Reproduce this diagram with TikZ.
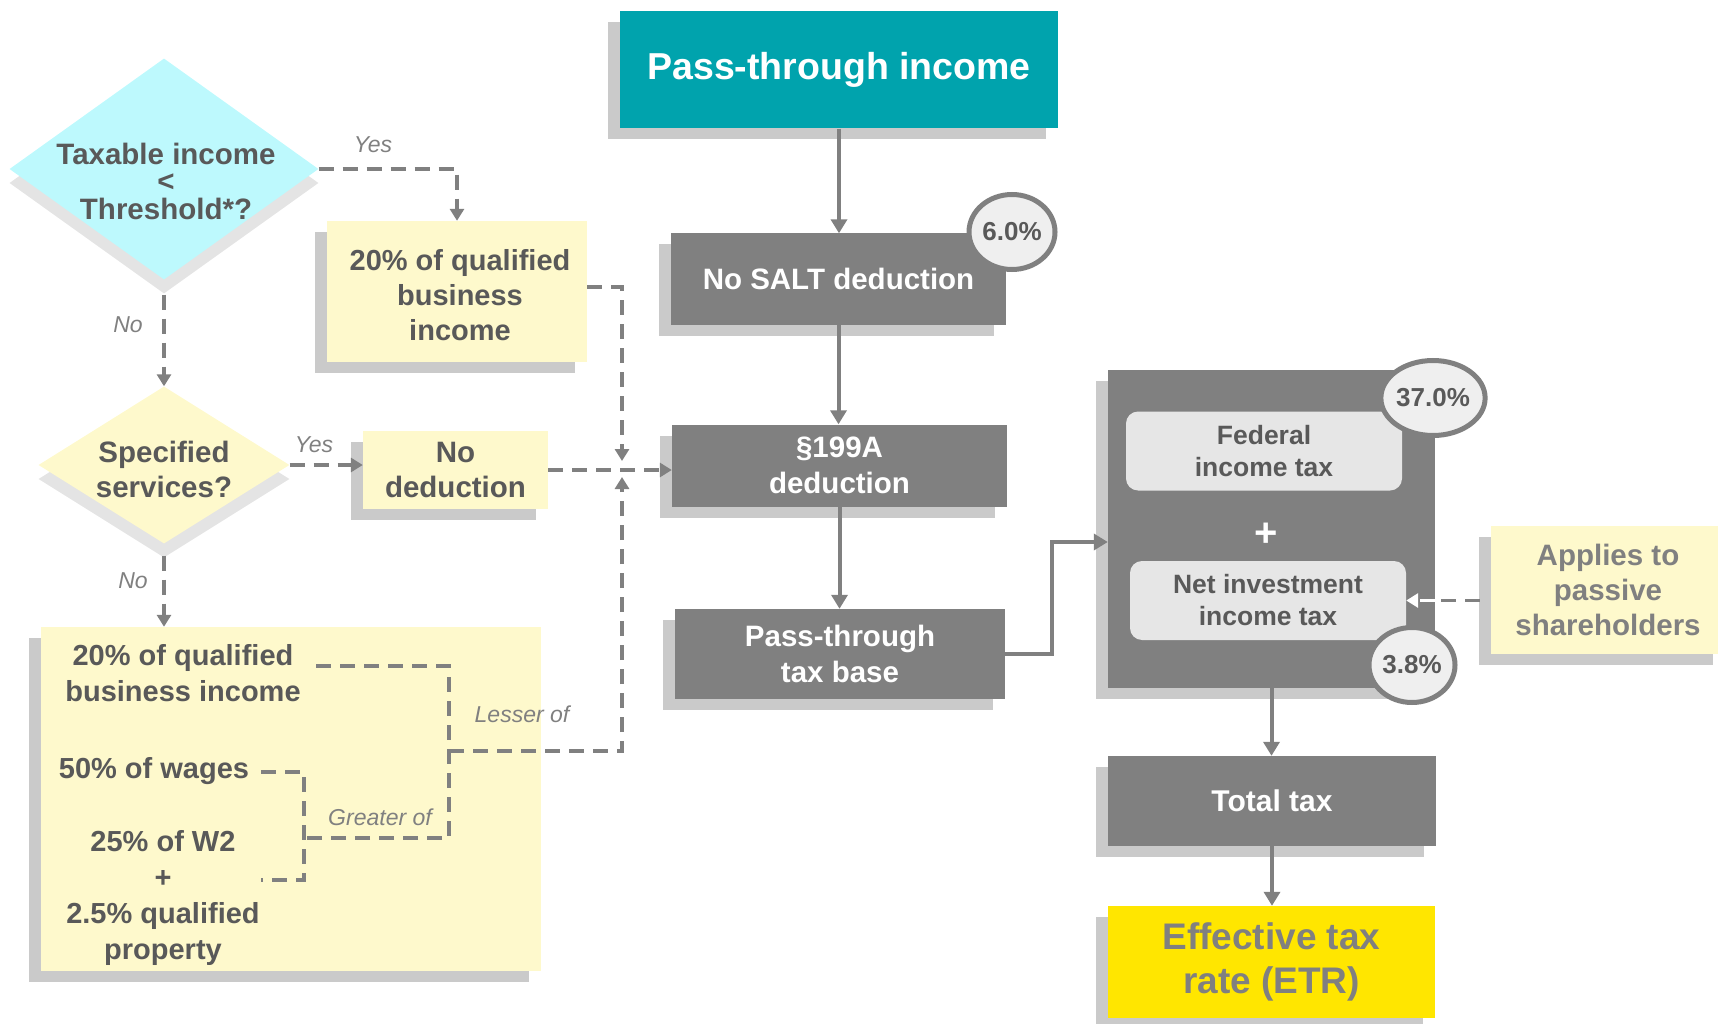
\documentclass[tikz,border=0pt]{standalone}
\usepackage{fontspec}
\setmainfont{Liberation Sans}
\usetikzlibrary{shapes.geometric,arrows.meta,shadows}
\definecolor{teal1}{HTML}{00A3AD}
\definecolor{boxgray}{HTML}{808080}
\definecolor{shgray}{HTML}{CACACA}
\definecolor{dshgray}{HTML}{E4E4E4}
\definecolor{cyan1}{HTML}{BDF9FD}
\definecolor{lyellow}{HTML}{FEF9CC}
\definecolor{etryel}{HTML}{FFE600}
\definecolor{txtdark}{HTML}{595959}
\definecolor{circfill}{HTML}{EFEFEF}
\definecolor{innergray}{HTML}{E6E6E6}
\begin{document}
\begin{tikzpicture}[x=1pt,y=-1pt,
  box/.style={rectangle, inner sep=0pt, align=center, drop shadow={shadow xshift=-12pt,shadow yshift=-11pt,fill=shgray,opacity=1}},
  graybox/.style={box, fill=boxgray, text=white, font=\fontsize{29.5}{35.5}\selectfont\bfseries},
  yelbox/.style={box, fill=lyellow, text=txtdark, font=\fontsize{29}{35}\selectfont\bfseries},
  dia/.style={diamond, inner sep=0pt, drop shadow={shadow xshift=0pt, shadow yshift=-14pt, fill=dshgray, opacity=1}},
  diatext/.style={align=center, text=txtdark, inner sep=0pt, font=\fontsize{29.5}{27.5}\selectfont\bfseries},
  bodytext/.style={align=center, text=txtdark, font=\fontsize{29}{36}\selectfont\bfseries, inner sep=0pt},
  lab/.style={text=boxgray, font=\fontsize{23}{27}\selectfont\itshape, inner sep=0pt},
  pct/.style={ellipse, draw=boxgray, line width=5pt, fill=circfill, minimum width=86pt, minimum height=75pt, inner sep=0pt, text=txtdark, font=\fontsize{26}{30}\selectfont\bfseries},
  innerbox/.style={rectangle, rounded corners=12pt, fill=innergray, minimum width=276pt, minimum height=79pt, inner sep=0pt, align=center, text=txtdark, font=\fontsize{26.5}{32}\selectfont\bfseries},
  flow/.style={draw=boxgray, line width=4pt, -{Triangle[length=14pt,width=16pt]}},
  dflow/.style={draw=boxgray, line width=3.5pt, dash pattern=on 15pt off 9pt, -{Triangle[length=12pt,width=14pt]}},
  dline/.style={draw=boxgray, line width=3.5pt, dash pattern=on 15pt off 9pt},
]
\useasboundingbox (0,0) rectangle (1718,1024);

% middle column
\node[graybox, fill=teal1, minimum width=438pt, minimum height=117pt, font=\fontsize{37.5}{40}\selectfont\bfseries] (pti) at (839,70) {Pass-through income};
\node[graybox, minimum width=335pt, minimum height=91pt] (salt) at (838.5,279) {No SALT deduction};
\node[graybox, minimum width=335pt, minimum height=82pt] (s199) at (839.5,465.5) {§199A\\deduction};
\node[graybox, minimum width=330pt, minimum height=90pt] (base) at (840,654) {Pass-through\\tax base};

% right column
\node[graybox, minimum width=327pt, minimum height=318pt] (big) at (1271.5,529) {};
\node[graybox, minimum width=328pt, minimum height=90pt, font=\fontsize{30}{35}\selectfont\bfseries] (total) at (1272,801) {Total tax};
\node[graybox, fill=etryel, text=boxgray, minimum width=327pt, minimum height=112pt, font=\fontsize{37}{44}\selectfont\bfseries] (etr) at (1271.5,962) {Effective tax\\rate (ETR)};
\node[innerbox] (fed) at (1264,451) {Federal\\income tax};
\node[innerbox] (niit) at (1268,600.5) {Net investment\\income tax};
\node[text=white, inner sep=0pt, font=\fontsize{40}{40}\selectfont\bfseries] (plus) at (1266,535) {+};
\node[yelbox, text=boxgray, minimum width=234pt, minimum height=128pt, font=\fontsize{29.5}{35}\selectfont\bfseries] (app) at (1608,589.5) {Applies to\\passive\\shareholders};

% left column
\node[dia, fill=cyan1, minimum width=309pt, minimum height=221pt] (d1) at (164,169) {};
\node[diatext] (d1t) at (166,181) {Taxable income\\<\\Threshold*?};
\node[dia, fill=lyellow, minimum width=251pt, minimum height=157pt] (d2) at (164,465) {};
\node[diatext, font=\fontsize{29.5}{35}\selectfont\bfseries] (d2t) at (164,469) {Specified\\services?};
\node[yelbox, minimum width=260pt, minimum height=141pt] (q1) at (457,291.5) {};
\node[bodytext, font=\fontsize{29}{35}\selectfont\bfseries] (q1t) at (460,295) {20\% of qualified\\business\\income};
\node[yelbox, minimum width=185pt, minimum height=78pt, font=\fontsize{29.5}{35}\selectfont\bfseries] (nod) at (455.5,470) {No\\deduction};
\node[yelbox, minimum width=500pt, minimum height=344pt] (bigy) at (291,799) {};
\node[bodytext] (q20) at (183,673) {20\% of qualified\\business income};
\node[bodytext] (w50) at (154,771) {50\% of wages};
\node[bodytext] (w2) at (163,897.5) {25\% of W2\\+\\2.5\% qualified\\property};

% labels
\node[lab] (yes1) at (373,145) {Yes};
\node[lab] (no1) at (128,325) {No};
\node[lab] (yes2) at (314,445) {Yes};
\node[lab] (no2) at (133,581) {No};
\node[lab] (less) at (522,714) {Lesser of};
\node[lab] (great) at (380,817) {Greater of};

% percentage bubbles
\node[pct] (p6) at (1012,232) {6.0\%};
\node[pct] (p37) at (1433,398) {37.0\%};
\node[pct] (p38) at (1412,665) {3.8\%};

% coordinates
\coordinate (Jt) at (622,461);
\coordinate (Jb) at (622,477);
\coordinate (bend) at (1052,542);
\coordinate (lessTop) at (316,666);
\coordinate (lessX) at (449,751);
\coordinate (grTop) at (261,772);
\coordinate (grBot) at (261,880);
\coordinate (grMid) at (304,838);

% solid flow
\draw[flow] (pti.south) -- (pti.south |- salt.north);
\draw[flow] (salt.south) -- (salt.south |- s199.north);
\draw[flow] (s199.south) -- (s199.south |- base.north);
\draw[flow] (base.east) -| (bend) -- (bend -| big.west);
\draw[flow] (big.south) -- (big.south |- total.north);
\draw[flow] (total.south) -- (total.south |- etr.north);

% dashed flow
\draw[dflow] (d1.east) -| (q1.north);
\draw[dflow, shorten <=15pt] (d1.south) -- (d2.north);
\draw[dflow] (d2.east) -- (d2.east -| nod.west);
\draw[dflow, shorten <=12pt] (d2.south) -- (d2.south |- bigy.north);
\draw[dflow] ([yshift=4.5pt]q1.east) -| (Jt);
\draw[dflow] (nod.east) -- (nod.east -| s199.west);
\draw[dline] (lessTop) -| (lessX |- grMid) -- (grMid);
\draw[dline] (grTop) -| (grMid |- grBot) -- (grBot);
\draw[dflow] (lessX) -| (Jb);
\draw[dflow, shorten <=11pt] (app.west |- niit.east) -- (niit.east);
\draw[dflow, draw=white] (big.east |- niit.east) -- (niit.east);
\end{tikzpicture}
\end{document}
